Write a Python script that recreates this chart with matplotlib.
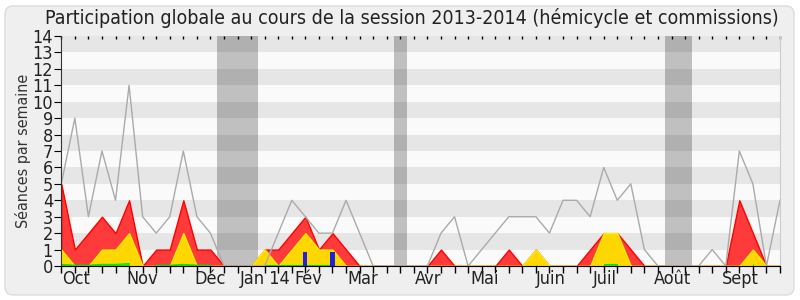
import numpy as np
import matplotlib
matplotlib.use('Agg')
import matplotlib.pyplot as plt
from matplotlib.patches import FancyBboxPatch
from matplotlib.transforms import IdentityTransform

plt.rcParams['font.family'] = ['DejaVu Sans']
plt.rcParams['font.stretch'] = 'condensed'

### Data (one value per week, session 2013-2014) ###

weeks = np.arange(54)

# Grey line: séances par semaine
seances = [5, 9, 3, 7, 4, 11, 3, 2, 3, 7, 3, 2, 0, 0, 0, 0, 2, 4, 3, 2,
           2, 4, 2, 0, 0, 0, 0, 0, 2, 3, 0, 1, 2, 3, 3, 3, 2, 4, 4, 3,
           6, 4, 5, 1, 0, 0, 0, 0, 1, 0, 7, 5, 0, 4]

# Red area: présences
presences = [5, 1, 2, 3, 2, 4, 0, 1, 1, 4, 1, 1, 0, 0, 0, 1, 1, 2, 3, 1,
             2, 1, 0, 0, 0, 0, 0, 0, 1, 0, 0, 0, 0, 1, 0, 1, 0, 0, 0, 1,
             2, 2, 1, 0, 0, 0, 0, 0, 0, 0, 4, 2, 0, 0]

# Yellow area: participations
participations = [1, 0, 0, 1, 1, 2, 0, 0, 0, 2, 0, 0, 0, 0, 0, 1, 0, 1, 2, 1,
                  1, 0, 0, 0, 0, 0, 0, 0, 0, 0, 0, 0, 0, 0, 0, 1, 0, 0, 0, 0,
                  2, 2, 0, 0, 0, 0, 0, 0, 0, 0, 0, 1, 0, 0]

# Green area: interventions
interventions = [0.1, 0.05, 0.05, 0.1, 0.1, 0.15, 0, 0.05, 0.05, 0.1, 0.05, 0.05, 0, 0, 0, 0.05, 0.05, 0.05, 0.05, 0.05,
                 0.05, 0, 0, 0, 0, 0, 0, 0, 0, 0, 0, 0, 0, 0, 0, 0.05, 0, 0, 0, 0,
                 0.1, 0.1, 0, 0, 0, 0, 0, 0, 0, 0, 0, 0.1, 0, 0]

# Blue bars
questions_weeks = [18, 20]
questions = [0.88, 0.88]

# Holiday weeks
vacances = [12, 13, 14, 25, 45, 46]

# Month labels
month_pos = [1.1, 6.0, 11.0, 15.0, 18.2, 22.2, 27.05, 31.2, 36.1, 40.05, 45.1, 50.1]
month_labels = ['Oct', 'Nov', 'Déc', 'Jan 14', 'Fév', 'Mar', 'Avr', 'Mai', 'Juin', 'Juil', 'Août', 'Sept']

### Plot ###

fig = plt.figure(figsize=(8, 3), dpi=100, facecolor='white')

# Rounded background panel
panel = FancyBboxPatch((5, 5), 789, 289, boxstyle='round,pad=0,rounding_size=8',
                       transform=IdentityTransform(), facecolor='#efefef',
                       edgecolor='#dcdcdc', linewidth=1, zorder=-10)
fig.patches.append(panel)

ax = fig.add_axes([0.0766, 0.1133, 0.975 - 0.0766, 0.88 - 0.1133])
ax.set_facecolor('#fafafa')

# Holidays
ax.bar(vacances, 14, width=1, color='#c0c0c0', zorder=1)

# Stripes
for y in range(1, 14, 2):
    ax.axhspan(y, y + 1, color='black', alpha=0.08, linewidth=0, zorder=2)

# Areas
ax.fill_between(weeks, presences, color='#ff3a3a', edgecolor='#ff0000', linewidth=1, zorder=3)
ax.fill_between(weeks, participations, color='#ffd700', edgecolor='#ffee00', linewidth=1, zorder=4)
green = np.array(interventions)
ax.fill_between(weeks, green, where=green > 0, interpolate=False, color='#22ee22',
                edgecolor='#11dd11', linewidth=0.8, zorder=5)
ax.bar(questions_weeks, questions, width=0.3, color='#2222dd', zorder=6)

# Line
ax.plot(weeks, seances, color='#aaaaaa', linewidth=1, zorder=7)

ax.set_xlim(0, 53)
ax.set_ylim(0, 14)
ax.set_yticks(range(0, 15))
ax.xaxis.remove_overlapping_locs = False
ax.set_xticks(weeks)
ax.set_xticklabels([])
ax.set_xticks(month_pos, minor=True)
ax.set_xticklabels(month_labels, minor=True)
ax.tick_params(axis='x', which='major', direction='out', length=5, width=1, color='black', top=True)
ax.tick_params(axis='x', which='minor', length=0, pad=3, labelsize=13, labelcolor='#222222')
ax.tick_params(axis='y', direction='out', length=5, labelsize=13, labelcolor='#222222', pad=1)
for t in ax.xaxis.get_major_ticks():
    t.tick2line.set_markersize(2)
    t.tick2line.set_marker(3)

ax.spines['top'].set_visible(False)
ax.spines['right'].set_color('#cccccc')
ax.spines['left'].set_color('#333333')
ax.spines['bottom'].set_color('black')
for s in ax.spines.values():
    s.set_zorder(10)

ax.set_ylabel('Séances par semaine', fontsize=11.5, color='#333333', labelpad=1)
fig.text(0.515, 0.94, 'Participation globale au cours de la session 2013-2014 (hémicycle et commissions)',
         ha='center', va='center', fontsize=14, color='#222222')

fig.savefig('out.png', dpi=100, facecolor=fig.get_facecolor())
